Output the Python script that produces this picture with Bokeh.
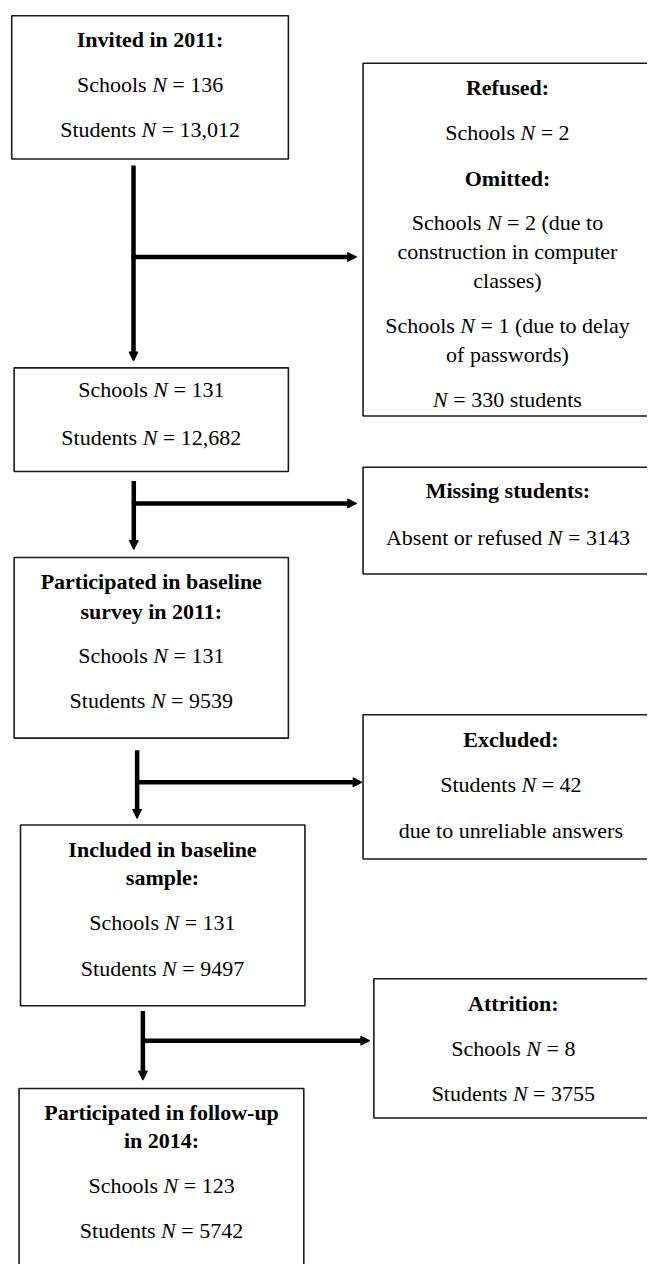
from bokeh.plotting import figure
from bokeh.models import Range1d, Arrow, NormalHead, ColumnDataSource
from bokeh.core.properties import value
from bokeh.embed import file_html
from bokeh.resources import INLINE

# ---------------- data ----------------
stage_titles = [["Invited in 2011:"], [], ["Participated in baseline", "survey in 2011:"],
                ["Included in baseline", "sample:"], ["Participated in follow-up", "in 2014:"]]
stage_schools = ["136", "131", "131", "131", "123"]
stage_students = ["13,012", "12,682", "9539", "9497", "5742"]

refused_schools = "2"
omitted_construction = "2"
omitted_passwords = "1"
omitted_students = "330"
missing_students = "3143"
excluded_students = "42"
attrition_schools = "8"
attrition_students = "3755"

# ---------------- layout (reference pixel coordinates) ----------------
PW, PH = 647, 1264          # figure size in screen px
RW, RH = 663, 1280          # coordinate frame of the layout
KX = RW / PW                # data units per screen px (x)
FS = 22
FONT = "Liberation Serif"
# main boxes: left, right, top, bottom, center x, line ys
main_boxes = [
    (11.5, 295.0, 15.5, 160.5, 153.3, [39.5, 85.5, 131.0]),
    (14.0, 295.0, 372.0, 477.0, 154.5, [393.5, 442.3]),
    (14.0, 295.0, 564.0, 747.0, 154.5, [588.3, 618.3, 663.3, 709.3]),
    (20.5, 312.0, 835.0, 1018.0, 166.0, [859.3, 888.3, 933.3, 980.0]),
    (19.0, 310.8, 1101.7, 1300.0, 165.0, [1126.0, 1154.0, 1200.0, 1246.0]),
]
side_boxes = [
    (371.5, 690.0, 63.5, 420.7, 519.5, [88.5, 134.0, 180.0, 225.0, 254.5, 284.0, 329.5, 358.5, 404.0]),
    (371.5, 690.0, 472.7, 580.7, 520.0, [496.7, 543.3]),
    (371.5, 690.0, 723.3, 869.3, 523.0, [748.3, 794.3, 840.0]),
    (382.6, 690.0, 990.7, 1131.7, 525.5, [1015.7, 1061.0, 1107.3]),
]
# arrows: vertical x, y start, y end, horizontal y, x end
arrows = [
    (136.3, 167.0, 365.0, 259.7, 365.0),
    (136.6, 486.7, 556.0, 509.3, 365.0),
    (140.0, 759.3, 828.3, 791.7, 370.5),
    (145.9, 1023.3, 1093.3, 1053.3, 378.5),
]

# ---------------- content lines ----------------
def N_line(prefix, suffix):
    return ("n", prefix, suffix)

main_lines = []
for i in range(5):
    lines = [("b", t) for t in stage_titles[i]]
    lines.append(N_line("Schools", "= " + stage_schools[i]))
    lines.append(N_line("Students", "= " + stage_students[i]))
    main_lines.append(lines)

side_lines = [
    [("b", "Refused:"), N_line("Schools", "= " + refused_schools), ("b", "Omitted:"),
     N_line("Schools", "= " + omitted_construction + " (due to"), ("r", "construction in computer"),
     ("r", "classes)"), N_line("Schools", "= " + omitted_passwords + " (due to delay"),
     ("r", "of passwords)"), N_line("", "= " + omitted_students + " students")],
    [("b", "Missing students:"), N_line("Absent or refused", "= " + missing_students)],
    [("b", "Excluded:"), N_line("Students", "= " + excluded_students), ("r", "due to unreliable answers")],
    [("b", "Attrition:"), N_line("Schools", "= " + attrition_schools), N_line("Students", "= " + attrition_students)],
]

# Times/Liberation Serif advance widths (per 1000 em)
W = {" ": 250, "(": 333, ")": 333, ",": 250, "=": 564, "A": 722, "S": 556, "N": 722,
     "a": 444, "b": 500, "c": 444, "d": 500, "e": 444, "f": 333, "g": 500, "h": 500, "i": 278,
     "l": 278, "m": 778, "n": 500, "o": 500, "p": 500, "r": 333, "s": 389, "t": 278, "u": 500,
     "w": 722, "y": 500}
for d in "0123456789":
    W[d] = 500
W_N_ITALIC = 667


def tw(s):
    # width in data units
    return sum(W.get(c, 500) for c in s) / 1000.0 * FS * KX


SP = tw(" ")
WN = W_N_ITALIC / 1000.0 * FS * KX

centered = {"b": dict(x=[], y=[], text=[]), "r": dict(x=[], y=[], text=[])}
left = {"r": dict(x=[], y=[], text=[]), "i": dict(x=[], y=[], text=[])}


def place(lines, cx, ys):
    for ln, y in zip(lines, ys):
        if ln[0] in ("b", "r"):
            centered[ln[0]]["x"].append(cx)
            centered[ln[0]]["y"].append(y)
            centered[ln[0]]["text"].append(ln[1])
        else:
            _, pre, suf = ln
            total = (tw(pre) + SP if pre else 0) + WN + SP + tw(suf)
            x0 = cx - total / 2.0
            if pre:
                left["r"]["x"].append(x0)
                left["r"]["y"].append(y)
                left["r"]["text"].append(pre)
                xn = x0 + tw(pre) + SP
            else:
                xn = x0
            left["i"]["x"].append(xn)
            left["i"]["y"].append(y)
            left["i"]["text"].append("N")
            left["r"]["x"].append(xn + WN + SP)
            left["r"]["y"].append(y)
            left["r"]["text"].append(suf)


for (l, r, t, b, cx, ys), lines in zip(main_boxes, main_lines):
    place(lines, cx, ys)
for (l, r, t, b, cx, ys), lines in zip(side_boxes, side_lines):
    place(lines, cx, ys)

# ---------------- figure ----------------
p = figure(width=PW, height=PH, x_range=Range1d(0, RW), y_range=Range1d(RH, 0),
           x_axis_type=None, y_axis_type=None, toolbar_location=None,
           output_backend="svg", min_border=0)
p.grid.visible = False
p.outline_line_color = None
p.background_fill_color = "white"
p.border_fill_color = "white"

boxes = main_boxes + side_boxes
p.quad(left=[bx[0] for bx in boxes], right=[bx[1] for bx in boxes],
       top=[bx[2] for bx in boxes], bottom=[bx[3] for bx in boxes],
       fill_color=None, line_color="#1a1a1a", line_width=1.6)

for vx, y0, y1, hy, hx1 in arrows:
    for (xs, ys, xe, ye) in [(vx, y0, vx, y1), (vx - 2, hy, hx1, hy)]:
        p.add_layout(Arrow(end=NormalHead(size=9, fill_color="black", line_color="black", line_width=1),
                           x_start=xs, y_start=ys, x_end=xe, y_end=ye,
                           line_color="black", line_width=4.5))

common = dict(text_font=value(FONT), text_font_size=f"{FS}px", text_baseline="middle", text_color="black")
p.text(x="x", y="y", text="text", source=ColumnDataSource(centered["b"]), text_align="center",
       text_font_style="bold", **common)
p.text(x="x", y="y", text="text", source=ColumnDataSource(centered["r"]), text_align="center",
       text_font_style="normal", **common)
p.text(x="x", y="y", text="text", source=ColumnDataSource(left["r"]), text_align="left",
       text_font_style="normal", **common)
p.text(x="x", y="y", text="text", source=ColumnDataSource(left["i"]), text_align="left",
       text_font_style="italic", **common)

open("out.html", "w").write(file_html(p, INLINE))
